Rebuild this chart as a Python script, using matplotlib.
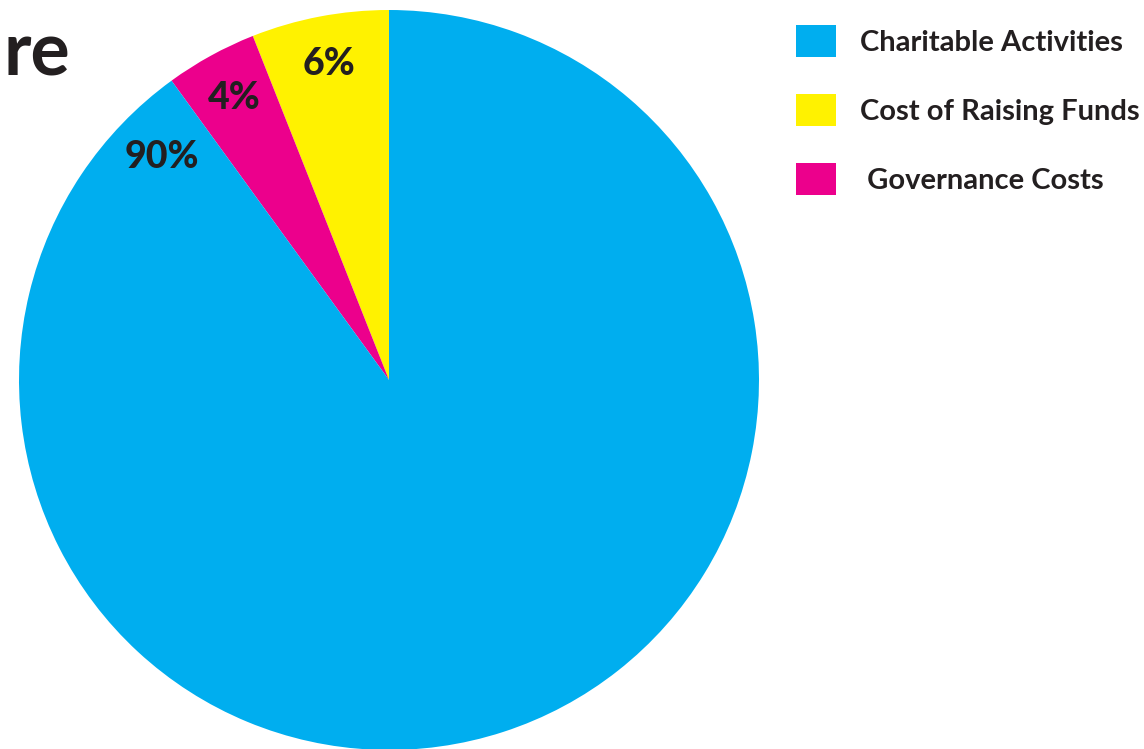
import numpy as np
import matplotlib.pyplot as plt
from matplotlib.patches import Patch

plt.rcParams['font.family'] = ['Lato', 'DejaVu Sans']

categories = ["Charitable Activities", "Cost of Raising Funds", " Governance Costs"]
shares = [90, 6, 4]
colors = ["#00AEEF", "#FFF200", "#EC008C"]
pct_labels = ["90%", "6%", "4%"]

ink = "#231F20"

fig = plt.figure(figsize=(11.44, 7.49), dpi=100)
ax = fig.add_axes([0, 0, 1, 1])

# draw order anticlockwise from 12 o'clock: yellow, pink, blue
order = [1, 2, 0]
cx, cy, R = 389, 380, 370
wedges, _ = ax.pie([shares[i] for i in order], colors=[colors[i] for i in order],
                   startangle=90, counterclock=True, radius=R,
                   wedgeprops=dict(linewidth=0))

# pixel-like data coords, pie centred at (389, 380) from top-left
ax.set_xlim(-cx, 1144 - cx)
ax.set_ylim(-(749 - cy), cy)
ax.set_aspect("equal")
ax.axis("off")

for w, i in zip(wedges, order):
    if i == 0:
        ang = w.theta1 + 9.5
        r = 0.86 * R
    else:
        ang = (w.theta1 + w.theta2) / 2
        r = 0.87 * R
    ax.text(r * np.cos(np.radians(ang)), r * np.sin(np.radians(ang)), pct_labels[i],
            ha="center", va="center", fontsize=27, fontweight=900, color=ink)

# what is left of the title at the left edge
fig.text(3 / 1144, 1 - 76 / 749, "re", ha="left", va="baseline",
         fontsize=53, fontweight="bold", color=ink)

handles = [Patch(facecolor=c, edgecolor="none") for c in colors]
leg = fig.legend(handles, categories, loc="upper left",
                 bbox_to_anchor=(796 / 1144, 1 - 25 / 749),
                 frameon=False, fontsize=21, borderaxespad=0, borderpad=0,
                 handlelength=1.38, handleheight=1.3, handletextpad=0.8,
                 labelspacing=1.28)
for t in leg.get_texts():
    t.set_fontweight("bold")
    t.set_color(ink)

fig.savefig("out.png", dpi=100)
